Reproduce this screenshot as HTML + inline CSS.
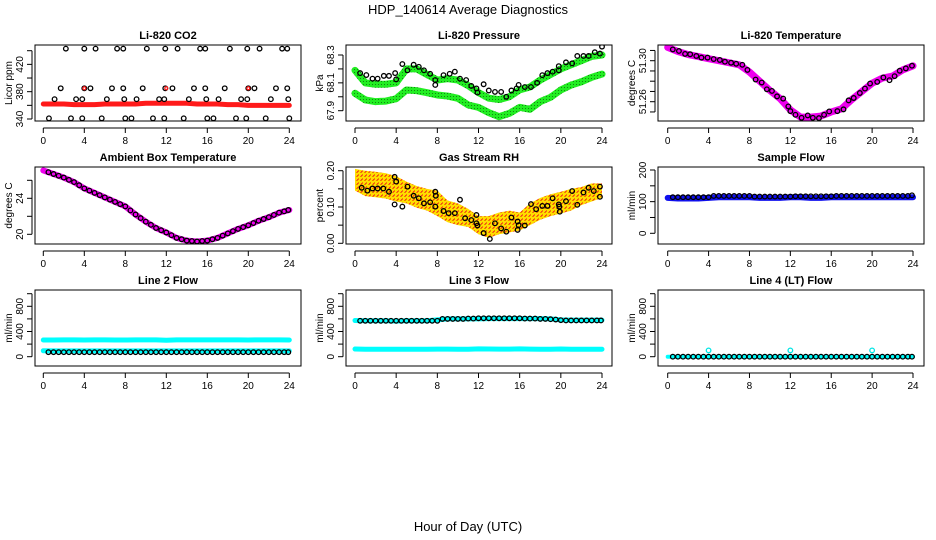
<!DOCTYPE html>
<html><head><meta charset="utf-8"><style>
body{margin:0;background:#fff;}
svg{display:block;font-family:"Liberation Sans",sans-serif;}
</style></head><body>
<svg id="c" width="936" height="540" viewBox="0 0 936 540">
<defs>
<pattern id="speck" width="4" height="4" patternUnits="userSpaceOnUse">
<rect width="4" height="4" fill="#ffdd00"/><rect width="2" height="1" fill="#f08000"/><rect x="2" y="2" width="1" height="2" fill="#f08000"/><rect x="1" y="3" width="1" height="1" fill="#ff3030"/>
</pattern>
<pattern id="speckg" width="3" height="3" patternUnits="userSpaceOnUse">
<rect width="3" height="3" fill="#22ee22"/><rect width="1" height="1" fill="#118811"/>
</pattern>
</defs>
<text x="468" y="14" text-anchor="middle" font-size="13">HDP_140614  Average Diagnostics</text>
<text x="468" y="531" text-anchor="middle" font-size="13">Hour of Day (UTC)</text>
</svg>
<script>
// ---- data ----
const hours = [0,1,2,3,4,5,6,7,8,9,10,11,12,13,14,15,16,17,18,19,20,21,22,23,24];
const halfHours = [0.5,1,1.5,2,2.5,3,3.5,4,4.5,5,5.5,6,6.5,7,7.5,8,8.5,9,9.5,10,10.5,11,11.5,12,12.5,13,13.5,14,14.5,15,15.5,16,16.5,17,17.5,18,18.5,19,19.5,20,20.5,21,21.5,22,22.5,23,23.5,23.9];
// CO2
const co2Red = [362,362,362,361,361,361,362,362,362,362,363,363,363,363,363,362,362,362,361,361,360,360,360,360,360];
const co2HighT = [2.2,4.0,5.1,7.2,7.8,10.1,11.9,13.1,15.3,15.8,18.2,19.9,21.1,23.3,23.8];
const co2HighV = 443;
const co2MidT = [1.7,4,4.6,6.7,7.8,9.7,11.9,12.6,14.7,15.8,17.7,20,20.6,22.7,23.8];
const co2MidV = 385;
const co2LowT = [1.1,3.2,3.8,6.2,7.9,9.1,11.3,11.8,14.2,15.9,17.1,19.3,19.9,22.2,23.9];
const co2LowV = 369;
const co2MinT = [0.55,2.7,3.8,5.7,8,8.6,10.7,11.8,13.7,16,16.6,18.8,19.8,21.7,24];
const co2MinV = 341;
const co2RedPtT = [4,12,20];
// Pressure
const presT = [0.5,1.1,1.7,2.2,2.8,3.3,3.9,4,4.6,5.1,5.7,6.2,6.7,7.3,7.8,7.8,8.6,9.2,9.7,10.2,10.8,11.3,11.8,11.9,12.5,13,13.6,14.2,14.7,15.2,15.7,15.9,16.5,17.1,17.7,18.2,18.7,19.2,19.8,19.8,20.5,21.1,21.6,22.2,22.7,23.3,23.8,24];
const presV = [68.17,68.156,68.13,68.13,68.15,68.15,68.17,68.125,68.235,68.19,68.23,68.215,68.19,68.165,68.12,68.085,68.155,68.165,68.18,68.13,68.12,68.078,68.06,68.03,68.09,68.045,68.035,68.035,68.0,68.045,68.06,68.085,68.07,68.07,68.1,68.155,68.17,68.18,68.19,68.22,68.247,68.24,68.293,68.293,68.293,68.32,68.31,68.36];
const presUpper = [68.19,68.1,68.09,68.09,68.1,68.2,68.2,68.16,68.12,68.13,68.12,68.08,68.03,67.99,67.98,68.0,68.05,68.07,68.12,68.16,68.2,68.23,68.26,68.29,68.3];
const presLower = [68.025,67.977,67.965,67.969,67.986,68.049,68.044,68.029,68.013,68.005,67.989,67.941,67.924,67.886,67.857,67.881,67.924,67.91,67.965,67.996,68.049,68.084,68.108,68.14,68.163];
// Li-820 temperature
const ltT = [0.5,1.1,1.7,2.2,2.8,3.3,3.9,4.5,5.1,5.6,6.2,6.7,7.3,7.8,8.6,9.2,9.7,10.2,10.7,11.3,11.8,12,12.5,13.1,13.7,14.2,14.8,15.3,15.8,16.6,17.2,17.7,18.2,18.8,19.3,19.8,20.5,21.1,21.7,22.2,22.7,23.3,23.9];
const ltV = [51.311,51.3095,51.3066,51.3063,51.3046,51.303,51.303,51.3016,51.3007,51.299,51.298,51.297,51.296,51.291,51.2816,51.2787,51.2721,51.2705,51.2652,51.263,51.2554,51.2508,51.2472,51.2443,51.2466,51.2443,51.244,51.2472,51.2505,51.2508,51.2525,51.2613,51.2636,51.2685,51.2728,51.2777,51.2793,51.2836,51.281,51.2849,51.2902,51.2925,51.2951];
const ltBand = [51.313,51.309,51.306,51.304,51.302,51.3,51.298,51.296,51.289,51.28,51.271,51.263,51.252,51.245,51.245,51.246,51.25,51.253,51.262,51.27,51.278,51.283,51.285,51.291,51.295];
// Ambient
const ambBand = [27.1,26.7,26.3,25.8,25.1,24.6,24.1,23.6,23.1,22.2,21.4,20.7,20.2,19.6,19.3,19.2,19.3,19.6,20.1,20.6,21.0,21.5,21.9,22.4,22.7];
const ambV = [26.9,26.7,26.5,26.3,26.05,25.8,25.45,25.1,24.85,24.6,24.35,24.1,23.85,23.6,23.35,23.1,22.65,22.2,21.8,21.4,21.05,20.7,20.45,20.2,19.9,19.6,19.45,19.3,19.25,19.2,19.25,19.3,19.45,19.6,19.85,20.1,20.35,20.6,20.8,21.0,21.25,21.5,21.7,21.9,22.15,22.4,22.55,22.7];
// RH
const rhT = [0.65,1.2,1.7,2.2,2.75,3.3,3.85,4,3.85,4.6,5.1,5.7,6.2,6.7,7.3,7.8,7.85,7.8,8.6,9.1,9.7,10.2,10.7,11.3,11.8,11.8,11.9,12.5,13.1,13.6,14.2,14.7,15.2,15.8,15.8,15.9,16.5,17.1,17.6,18.2,18.7,19.2,19.8,19.85,19.9,20.5,21.1,21.6,22.2,22.7,23.2,23.8,23.8];
const rhV = [.153,.145,.151,.151,.151,.142,.183,.17,.107,.101,.156,.131,.124,.11,.113,.142,.131,.101,.089,.083,.083,.12,.069,.064,.078,.055,.049,.028,.012,.055,.041,.032,.071,.06,.037,.05,.049,.108,.094,.103,.103,.124,.107,.101,.087,.116,.144,.106,.14,.153,.144,.156,.128];
const rhBand = [.175,.165,.162,.158,.15,.14,.128,.12,.11,.088,.08,.07,.05,.045,.055,.06,.06,.08,.095,.105,.112,.12,.13,.14,.145];
const rhHalf = [.03,.035,.035,.035,.035,.03,.03,.03,.035,.03,.03,.025,.025,.03,.03,.03,.025,.03,.03,.03,.03,.03,.025,.025,.02];
// Sample flow
const sampBand = [112,110,110,110,112,114,114,114,114,112,112,112,114,114,112,112,114,114,114,114,114,114,114,114,114];
const sampV = [114,114,114,114,114,114,114,114,118,118,118,118,118,118,118,118,116,116,116,116,116,116,116,116,117,117,117,117,117,117,117,117,118,118,118,118,118,118,118,118,118,118,118,118,118,118,118,120];
// Line flows
const l2Upper = [265,265,268,268,265,268,268,265,265,268,268,268,262,268,268,268,268,268,268,268,265,268,268,268,265];
const l2Lower = [95,92,92,92,92,92,92,92,92,92,92,92,92,92,92,92,92,92,92,92,92,92,92,92,92];
const l2V = 72;
const l3Upper = [575,570,570,570,565,570,570,570,585,600,600,600,600,605,605,605,605,605,605,600,585,580,580,580,580];
const l3Lower = [122,118,118,118,118,118,118,118,120,120,118,118,125,122,120,120,125,120,118,118,122,118,118,118,118];
const l3V = [570,570,570,570,570,570,570,570,570,570,570,570,570,570,570,570,600,600,600,600,600,605,605,610,610,610,610,610,610,610,610,610,605,605,605,600,600,595,590,580,575,575,575,575,575,575,575,575];
const l4Band = [0,0,0,0,0,0,0,0,0,0,0,0,0,0,0,0,0,0,0,0,0,0,0,0,0];
const l4V = 0;
const l4SpikeT = [4,12,20];
const l4SpikeV = [100,100,100];
const xTicks = [0,4,8,12,16,20,24];

// ---- drawing ----
const NS = 'http://www.w3.org/2000/svg';
const svg = document.getElementById('c');
function mk(tag, attrs, parent){const e=document.createElementNS(NS,tag);for(const k in attrs)e.setAttribute(k,attrs[k]);(parent||svg).appendChild(e);return e;}

function panel(cfg){
  const g = mk('g',{});
  
  
  const [bx0,bx1,by0,by1]=cfg.box;
  const xs = h => cfg.xr[0] + (cfg.xr[1]-cfg.xr[0])*h/24;
  const ys = v => cfg.yr[1] + (v-cfg.yr[0])*(cfg.yr[3]-cfg.yr[1])/(cfg.yr[2]-cfg.yr[0]);
  const cid='clip-'+cfg.name;
  const cp=mk('clipPath',{id:cid},g); mk('rect',{x:bx0,y:by0,width:bx1-bx0,height:by1-by0},cp);
  const plot=mk('g',{'clip-path':'url(#'+cid+')'},g);
  const frame=mk('rect',{x:bx0,y:by0,width:bx1-bx0,height:by1-by0,fill:'none',stroke:'#000','stroke-width':1},g);
  
  
  const t=mk('text',{x:(bx0+bx1)/2,y:by0-6,'text-anchor':'middle','font-size':11,'font-weight':'bold'},g);
  t.textContent=cfg.title;
  
  
  const ax=by1+7;
  const xa=mk('g',{},g);
  
  
  mk('line',{x1:xs(0),x2:xs(24),y1:ax,y2:ax,stroke:'#000'},xa);
  xTicks.forEach(h=>{mk('line',{x1:xs(h),x2:xs(h),y1:ax,y2:ax+5,stroke:'#000'},xa);
    const l=mk('text',{x:xs(h),y:ax+16,'text-anchor':'middle','font-size':10},xa);l.textContent=h;});
  const ay=bx0-3;
  const ya=mk('g',{},g);
  
  
  mk('line',{x1:ay,x2:ay,y1:ys(cfg.yticks[0]),y2:ys(cfg.yticks[cfg.yticks.length-1]),stroke:'#000'},ya);
  cfg.yticks.forEach(v=>mk('line',{x1:ay-5,x2:ay,y1:ys(v),y2:ys(v),stroke:'#000'},ya));
  cfg.ylabels.forEach((v,i)=>{const yy=ys(v);const l=mk('text',{x:ay-9,y:yy,'text-anchor':'middle','font-size':10,transform:`rotate(-90 ${ay-9} ${yy})`},ya);l.textContent=cfg.ylabelText[i];});
  const yt=mk('text',{x:ay-20,y:(by0+by1)/2,'text-anchor':'middle','font-size':10,transform:`rotate(-90 ${ay-20} ${(by0+by1)/2})`},g);
  yt.textContent=cfg.ytitle;
  
  
  return {plot,xs,ys};
}
function band(p,ts,vs,color,w,name){
  const pts=ts.map((t,i)=>p.xs(t)+','+p.ys(vs[i])).join(' ');
  const e=mk('polyline',{points:pts,fill:'none',stroke:color,'stroke-width':w,'stroke-linejoin':'round','stroke-linecap':'round'},p.plot);
  
  
}
function dots(p,ts,vs,color,name,r){
  const g=mk('g',{},p.plot);
  
  
  ts.forEach((t,i)=>mk('circle',{cx:p.xs(t),cy:p.ys(Array.isArray(vs)?vs[i]:vs),r:r||2.3,fill:'none',stroke:color,'stroke-width':1.3},g));
}

let p=panel({name:'panel-co2',title:'Li-820 CO2',box:[35,301,45,121],xr:[43.3,289.3],yr:[340,119,440,50.7],yticks:[340,360,380,400,420,440],ylabels:[340,380,420],ylabelText:['340','380','420'],ytitle:'Licor ppm'});
band(p,hours,co2Red,'#ff1a1a',5,'co2-red-series');
dots(p,co2HighT,co2HighV,'#000','co2-points-high');
dots(p,co2MidT,co2MidV,'#000','co2-points-mid');
dots(p,co2LowT,co2LowV,'#000','co2-points-low');
dots(p,co2MinT,co2MinV,'#000','co2-points-min');
dots(p,co2RedPtT,co2MidV,'#ff1a1a','co2-red-points',1.5);

p=panel({name:'panel-pressure',title:'Li-820 Pressure',box:[346,612,45,121],xr:[355,602],yr:[67.9,110.7,68.3,55],yticks:[67.9,68.0,68.1,68.2,68.3],ylabels:[67.9,68.1,68.3],ylabelText:['67.9','68.1','68.3'],ytitle:'kPa'});
band(p,hours,presUpper,'url(#speckg)',7,'pressure-upper-band');
band(p,hours,presLower,'url(#speckg)',7,'pressure-lower-band');
dots(p,presT,presV,'#000','pressure-points');

p=panel({name:'panel-li820-temp',title:'Li-820 Temperature',box:[658,924,45,121],xr:[667.7,913],yr:[51.26,101.7,51.30,60.7],yticks:[51.25,51.26,51.27,51.28,51.29,51.30,51.31],ylabels:[51.26,51.30],ylabelText:['51.26','51.30'],ytitle:'degrees C'});
band(p,hours,ltBand,'#ee00ee',7,'li820-temp-band');
dots(p,ltT,ltV,'#000','li820-temp-points');

p=panel({name:'panel-ambient-temp',title:'Ambient Box Temperature',box:[35,301,167,244],xr:[43.3,289.3],yr:[20,234.3,24,198.3],yticks:[20,22,24,26],ylabels:[20,24],ylabelText:['20','24'],ytitle:'degrees C'});
band(p,hours,ambBand,'#ee00ee',6,'ambient-temp-band');
dots(p,halfHours,ambV,'#000','ambient-temp-points');

p=panel({name:'panel-rh',title:'Gas Stream RH',box:[346,612,167,244],xr:[355,602],yr:[0,243.3,0.2,170.7],yticks:[0,0.05,0.1,0.15,0.2],ylabels:[0,0.1,0.2],ylabelText:['0.00','0.10','0.20'],ytitle:'percent'});
{const up=hours.map((h,i)=>p.xs(h)+','+p.ys(rhBand[i]+rhHalf[i]));const dn=hours.map((h,i)=>p.xs(h)+','+p.ys(rhBand[i]-rhHalf[i])).reverse();
 const e=mk('polygon',{points:up.concat(dn).join(' '),fill:'url(#speck)'},p.plot);
 
 }
dots(p,rhT,rhV,'#000','rh-points');

p=panel({name:'panel-sample-flow',title:'Sample Flow',box:[658,924,167,244],xr:[667.7,913],yr:[0,233.3,200,170],yticks:[0,50,100,150,200],ylabels:[0,100,200],ylabelText:['0','100','200'],ytitle:'ml/min'});
band(p,hours,sampBand,'#1010ee',6,'sample-flow-band');
dots(p,halfHours,sampV,'#000','sample-flow-points');

const fl={yr:[0,356.7,800,306.3],yticks:[0,200,400,600,800,1000],ylabels:[0,400,800],ylabelText:['0','400','800'],ytitle:'ml/min'};
p=panel(Object.assign({name:'panel-line2-flow',title:'Line 2 Flow',box:[35,301,290,366],xr:[43.3,289.3]},fl));
band(p,hours,l2Upper,'#00ffff',5,'line2-upper-band');
band(p,hours,l2Lower,'#00ffff',5,'line2-lower-band');
dots(p,halfHours,l2V,'#000','line2-points');

p=panel(Object.assign({name:'panel-line3-flow',title:'Line 3 Flow',box:[346,612,290,366],xr:[355,602]},fl));
band(p,hours,l3Upper,'#00ffff',5,'line3-upper-band');
band(p,hours,l3Lower,'#00ffff',5,'line3-lower-band');
dots(p,halfHours,l3V,'#000','line3-points');

p=panel(Object.assign({name:'panel-line4-flow',title:'Line 4 (LT) Flow',box:[658,924,290,366],xr:[667.7,913]},fl));
band(p,hours,l4Band,'#00ffff',4,'line4-band');
dots(p,halfHours,l4V,'#000','line4-points');
dots(p,l4SpikeT,l4SpikeV,'#00e5e5','line4-spike-points');
</script>
</body></html>
